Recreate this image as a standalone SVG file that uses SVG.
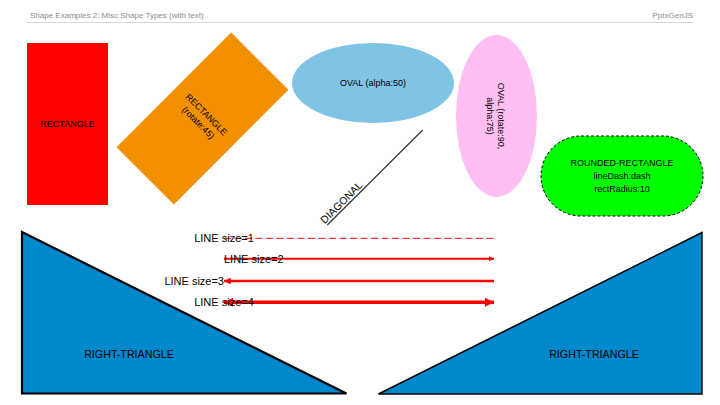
<svg xmlns="http://www.w3.org/2000/svg" width="720" height="405" viewBox="0 0 720 405">
<style>
text{font-family:"Liberation Sans",Arial,sans-serif;fill:#000;}
.hdr{font-size:8px;fill:#8a8a8a;}
.lbl{font-size:9px;text-anchor:middle;}
.lnl{font-size:11px;}
.tri{fill:#0088CC;stroke:#000;}
.ln{stroke:#FF0000;fill:none;}
</style>
<defs>
<marker id="ah" viewBox="0 0 10 10" refX="10" refY="5" markerWidth="2.5" markerHeight="2.5" markerUnits="strokeWidth" orient="auto-start-reverse">
<path d="M0,0 L10,5 L0,10 Z" fill="#FF0000"/>
</marker>
</defs>
<rect width="720" height="405" fill="#fff"/>
<g id="header">
<text class="hdr" x="30" y="17.5">Shape Examples 2: Misc Shape Types (with text)</text>
<text class="hdr" x="693" y="17.5" text-anchor="end">PptxGenJS</text>
<line x1="27" y1="22.5" x2="693" y2="22.5" stroke="#d6d6d6" stroke-width="1"/>
</g>
<g id="rectangle">
<rect x="27" y="43" width="81" height="162" fill="#FF0000"/>
<text class="lbl" x="67.5" y="127">RECTANGLE</text>
</g>
<g id="rect-rotated" transform="rotate(45 202.5 118.5)">
<rect x="162" y="37.5" width="81" height="162" fill="#F39000"/>
<text class="lbl" x="202.5" y="116">RECTANGLE</text>
<text class="lbl" x="202.5" y="127.5">(rotate:45)</text>
</g>
<g id="oval">
<ellipse cx="373" cy="83" rx="81" ry="40" fill="#0088CC" fill-opacity="0.5"/>
<text class="lbl" x="373" y="86">OVAL (alpha:50)</text>
</g>
<g id="oval-rotated" transform="rotate(90 496.5 116)">
<ellipse cx="496.5" cy="116" rx="81" ry="40.5" fill="#FF00CC" fill-opacity="0.25"/>
<text class="lbl" x="496.5" y="115">OVAL (rotate:90,</text>
<text class="lbl" x="496.5" y="126">alpha:75)</text>
</g>
<g id="diagonal">
<line x1="422.7" y1="130" x2="327.3" y2="225" stroke="#333" stroke-width="1.2"/>
<text font-size="10.5" text-anchor="middle" x="344" y="205" transform="rotate(-45 344 205)">DIAGONAL</text>
</g>
<g id="rounded-rectangle">
<rect x="541" y="136" width="162" height="80" rx="40" ry="40" fill="#00FF00" stroke="#000" stroke-width="1" stroke-dasharray="3 2"/>
<text class="lbl" x="622" y="166">ROUNDED-RECTANGLE</text>
<text class="lbl" x="622" y="178.5">lineDash:dash</text>
<text class="lbl" x="622" y="191.5">rectRadius:10</text>
</g>
<g id="triangle-left">
<polygon class="tri" points="22,232 22,393.5 346.5,393.5" stroke-width="2.2"/>
<text font-size="10.7" text-anchor="middle" x="129" y="358">RIGHT-TRIANGLE</text>
</g>
<g id="triangle-right">
<polygon class="tri" points="702,232.5 702,394 378.5,394" stroke-width="1.4"/>
<text font-size="10.7" text-anchor="middle" x="594" y="358">RIGHT-TRIANGLE</text>
</g>
<g id="connectors">
<line class="ln" x1="224" y1="238.3" x2="494" y2="238.3" stroke-width="1" stroke-dasharray="7 3.5"/>
<line class="ln" x1="224" y1="258.7" x2="494" y2="258.7" stroke-width="2" marker-end="url(#ah)"/>
<line class="ln" x1="224" y1="281" x2="494" y2="281" stroke-width="2.7" marker-start="url(#ah)"/>
<line class="ln" x1="224" y1="302.3" x2="494" y2="302.3" stroke-width="3.6" marker-start="url(#ah)" marker-end="url(#ah)"/>
</g>
<g id="line-labels">
<text class="lnl" x="224" y="242" text-anchor="middle">LINE size=1</text>
<text class="lnl" x="224" y="262.5" text-anchor="start">LINE size=2</text>
<text class="lnl" x="224" y="285" text-anchor="end">LINE size=3</text>
<text class="lnl" x="224" y="306" text-anchor="middle">LINE size=4</text>
</g>
</svg>
